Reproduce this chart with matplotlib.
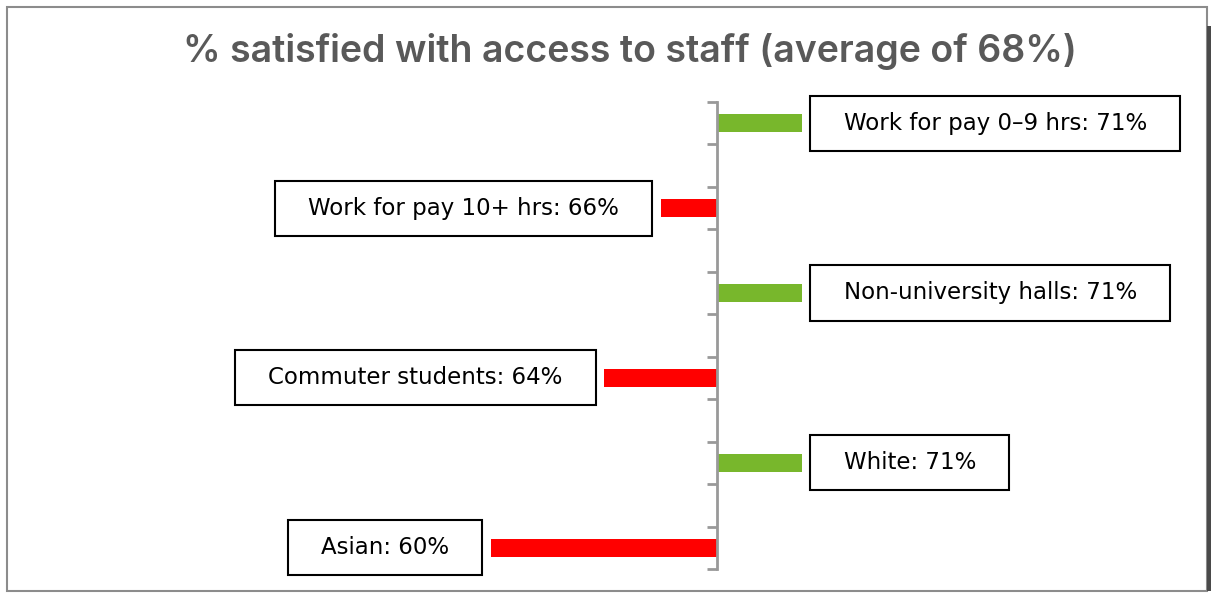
import numpy as np
import matplotlib.pyplot as plt
from matplotlib.path import Path
from matplotlib.patches import Rectangle

average = 68
groups = ["Work for pay 0\u20139 hrs", "Work for pay 10+ hrs", "Non-university halls",
          "Commuter students", "White", "Asian"]
values = [71, 66, 71, 64, 71, 60]

GREEN = "#78B72C"
RED = "#FF0000"
AXIS_GREY = "#999999"


def label_box(x0, y0, width, height, mutation_size):
    # plain rectangle with wider padding at the sides than at top/bottom
    padx = 1.45 * mutation_size
    pady = 0.7 * mutation_size
    x0, y0 = x0 - padx, y0 - pady
    x1, y1 = x0 + width + 2 * padx, y0 + height + 2 * pady
    return Path([(x0, y0), (x1, y0), (x1, y1), (x0, y1), (x0, y0)], closed=True)


fig = plt.figure(figsize=(12.14, 5.95), dpi=100)
ax = fig.add_axes([0.05, 0.0437, 0.93, 0.785])

# one bar on every other slot, blank slot in between
ypos = np.arange(len(groups)) * 2
diffs = np.array(values) - average
colors = [GREEN if d > 0 else RED for d in diffs]
ax.barh(ypos, diffs, left=average, height=0.42, color=colors)

for y, name, v, d in zip(ypos, groups, values, diffs):
    side = 1 if d > 0 else -1
    ax.annotate(f"{name}: {v}%", xy=(v, y), xytext=(side * 30, 0),
                textcoords="offset points", ha="left" if side > 0 else "right",
                va="center", fontsize=16.5, color="black",
                bbox=dict(boxstyle=label_box, fc="white", ec="black", lw=1.5))

ax.set_xlim(average - 23.2, average + 16.7)
ax.set_ylim(len(groups) * 2 - 1.5, -0.5)
ax.set_yticks(np.arange(-0.5, len(groups) * 2 - 1, 1.0))
ax.set_yticklabels([])
ax.set_xticks([])
for s in ["top", "right", "bottom"]:
    ax.spines[s].set_visible(False)
ax.spines["left"].set_position(("data", average))
ax.spines["left"].set_color(AXIS_GREY)
ax.spines["left"].set_linewidth(2)
ax.tick_params(axis="y", direction="out", length=7, width=2, color=AXIS_GREY)
ax.patch.set_alpha(0)

fig.text(0.519, 0.914, f"% satisfied with access to staff (average of {average}%)",
         ha="center", va="center", fontsize=27, color="#595959",
         family="Inter", fontweight="semibold")

# outer frame
fig.patches.append(Rectangle((0.006, 0.007), 0.988, 0.982, transform=fig.transFigure,
                             fill=False, ec="#8C8C8C", lw=1.5))
fig.patches.append(Rectangle((0.9945, 0.007), 0.003, 0.95, transform=fig.transFigure,
                             fill=True, fc="#4A4A4A", ec="none"))

fig.savefig("out.png", dpi=100)
